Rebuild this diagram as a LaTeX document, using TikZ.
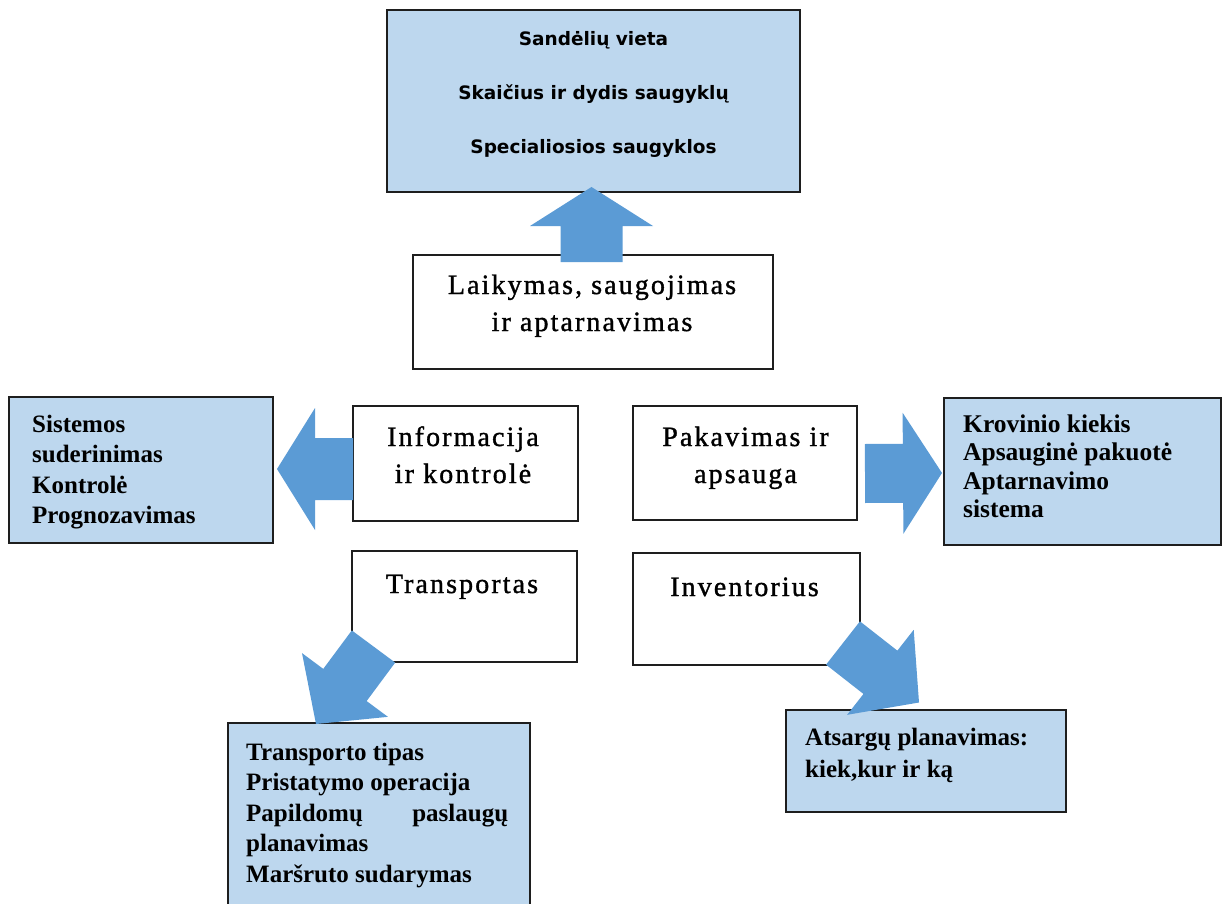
\documentclass[tikz,border=0pt]{standalone}
\usepackage{fontspec}
\setmainfont{Liberation Serif}
\newfontfamily\headfont{DejaVu Sans}
\newfontfamily\titlefont{Liberation Serif}[LetterSpace=7.5, FakeBold=1.2]
\usetikzlibrary{calc}

\definecolor{boxblue}{RGB}{189,215,238}
\definecolor{arrowblue}{RGB}{91,155,213}
\definecolor{edgegray}{RGB}{30,30,30}

\tikzset{
  panel/.style={draw=edgegray, line width=1.4pt, anchor=north west,
    inner sep=0pt, outer sep=0pt},
  whitebox/.style={panel, fill=white},
  bluebox/.style={panel, fill=boxblue},
  % multi-line texts are placed by the baseline of their last line
  titletext/.style={font=\titlefont\fontsize{28}{37}\selectfont,
    inner sep=0pt, anchor=base, align=center},
  itemtext/.style={font=\bfseries\fontsize{25}{30.5}\selectfont,
    inner sep=0pt, anchor=base west, align=left},
  headtext/.style={font=\headfont\bfseries\fontsize{18.5}{54}\selectfont,
    inner sep=0pt, anchor=base, align=center},
  blockfill/.style={fill=arrowblue},
}

% thick block arrow: #1 tail, #2 tip, #3 half shaft width,
% #4 half head width, #5 head length
\newcommand\blockarrow[5]{%
  \coordinate (hb) at ($(#2)!#5!(#1)$);
  \fill[blockfill]
    ($(#1)!#3!90:(#2)$) -- ($(hb)!#3!90:(#2)$) -- ($(hb)!#4!90:(#2)$)
    -- (#2)
    -- ($(hb)!#4!-90:(#2)$) -- ($(hb)!#3!-90:(#2)$) -- ($(#1)!#3!-90:(#2)$)
    -- cycle;
}

\begin{document}
\begin{tikzpicture}[x=1pt, y=-1pt]
\useasboundingbox (0,0) rectangle (1223,904);
\clip (0,0) rectangle (1223,904);

% boxes
\node[bluebox,  minimum width=413pt, minimum height=182pt] (store)    at (387,10)  {};
\node[whitebox, minimum width=360pt, minimum height=114pt] (hold)     at (413,255) {};
\node[bluebox,  minimum width=264pt, minimum height=146pt] (infoout)  at (9,397)   {};
\node[whitebox, minimum width=225pt, minimum height=115pt] (info)     at (353,406) {};
\node[whitebox, minimum width=224pt, minimum height=114pt] (pack)     at (633,406) {};
\node[bluebox,  minimum width=277pt, minimum height=147pt] (packout)  at (944,398) {};
\node[whitebox, minimum width=225pt, minimum height=111pt] (trans)    at (352,551) {};
\node[whitebox, minimum width=227pt, minimum height=112pt] (inv)      at (633,553) {};
\node[bluebox,  minimum width=302pt, minimum height=200pt] (transout) at (228,723) {};
\node[bluebox,  minimum width=280pt, minimum height=102pt] (invout)   at (786,710) {};

% texts
\node[headtext] (storetxt) at (593.5,154)
  {Sandėlių vieta\\Skaičius ir dydis saugyklų\\Specialiosios saugyklos};
\node[titletext] (holdtxt) at (592,331) {Laikymas, saugojimas\\ir aptarnavimas};
\node[titletext] (infotxt) at (463,483) {Informacija\\ir kontrolė};
\node[titletext] (packtxt) at (745.5,483) {Pakavimas ir\\apsauga};
\node[titletext] (transtxt) at (462,593) {Transportas};
\node[titletext] (invtxt) at (744.5,596) {Inventorius};

\node[itemtext] (infoitems) at (32,523.5)
  {Sistemos\\suderinimas\\Kontrolė\\Prognozavimas};
\node[itemtext, font=\bfseries\fontsize{25.5}{28.5}\selectfont] (packitems) at (963,517.5)
  {Krovinio kiekis\\Apsauginė pakuotė\\Aptarnavimo\\sistema};
\node[itemtext] (transitems) at (246,882)
  {Transporto tipas\\Pristatymo operacija\\\makebox[262pt][s]{Papildomų paslaugų}\\planavimas\\Maršruto sudarymas};
\node[itemtext, font=\bfseries\fontsize{25}{32}\selectfont] (invitems) at (805,777)
  {Atsargų planavimas:\\kiek,kur ir ką};

% arrow ends
\coordinate (upA) at ($(hold.north)+(-1.5,7)$);
\coordinate (upB) at ($(store.south)+(-2,-5)$);
\coordinate (leftA) at ($(info.west)+(0,5.5)$);
\coordinate (leftB) at ($(infoout.east)+(4,-1)$);
\coordinate (rightA) at ($(pack.east)+(8,10.5)$);
\coordinate (rightB) at ($(packout.west)+(-2,1.5)$);
\coordinate (transA) at ($(trans.south west)+(21.5,-15.5)$);
\coordinate (transB) at ($(transout.north west)+(88,1)$);
\coordinate (invA) at ($(inv.south east)+(-17,-22)$);
\coordinate (invB) at ($(invout.north west)+(133,-7.5)$);

% arrows
\blockarrow{upA}{upB}{31pt}{61.5pt}{39pt}
\blockarrow{leftA}{leftB}{31pt}{61pt}{38pt}
\blockarrow{rightA}{rightB}{29.5pt}{60.5pt}{39pt}
\blockarrow{transA}{transB}{27pt}{53.5pt}{48.6pt}
\blockarrow{invA}{invB}{27.5pt}{54pt}{49pt}
\end{tikzpicture}
\end{document}
